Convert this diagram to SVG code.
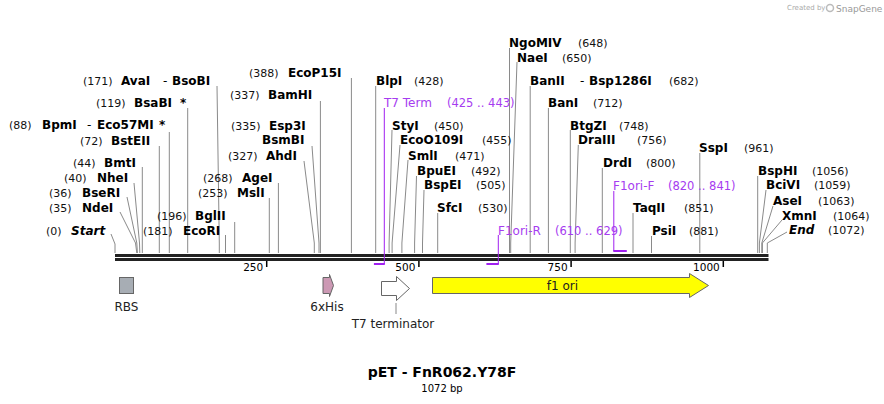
<svg xmlns="http://www.w3.org/2000/svg" width="884" height="404" viewBox="0 0 884 404">
<style>
text{font-family:"DejaVu Sans","Liberation Sans",sans-serif;}
.n{font-size:12px;font-weight:bold;fill:#000;}
.i{font-style:italic;}
.p{font-size:11px;fill:#111;}
.d{font-size:12px;fill:#000;}
.pu{font-size:12px;fill:#a63cf0;}
.pn{font-size:11.5px;fill:#a63cf0;}
.cut{fill:none;stroke:#8a8a8a;stroke-width:1;}
.br{fill:none;stroke:#a020f0;stroke-width:1;}
.brh{fill:none;stroke:#a020f0;stroke-width:2;}
.tk{stroke:#000;stroke-width:1.5;}
.tl{font-size:10.5px;fill:#000;text-anchor:end;}
.fl{font-size:12px;fill:#222;text-anchor:middle;}
.feat{stroke:#666;stroke-width:1;}
</style>

<g id="watermark">
<text x="787" y="10" style="font-size:7px;fill:#aaa;">Created by</text>
<circle cx="830" cy="8" r="3.5" fill="none" stroke="#bbb" stroke-width="1.5"/>
<text x="836" y="11.5" style="font-size:9px;fill:#999;">SnapGene</text>
</g>

<g id="backbone">
<rect x="115" y="254" width="653.5" height="3" fill="#222"/>
<rect x="115" y="258" width="653.5" height="3" fill="#222"/>
<line class="tk" x1="266.7" y1="261" x2="266.7" y2="267"/>
<line class="tk" x1="418.9" y1="261" x2="418.9" y2="267"/>
<line class="tk" x1="571.1" y1="261" x2="571.1" y2="267"/>
<line class="tk" x1="723.3" y1="261" x2="723.3" y2="267"/>
<text class="tl" x="263.2" y="271">250</text>
<text class="tl" x="415.4" y="271">500</text>
<text class="tl" x="567.6" y="271">750</text>
<text class="tl" x="719.8" y="271">1000</text>
</g>

<g id="connectors">
<polyline class="cut" points="111,234 115,244 115,253"/>
<polyline class="cut" points="120,212 135.5,243 136.8,253"/>
<polyline class="cut" points="127,197 136.8,243 137.4,253"/>
<polyline class="cut" points="134,183 139.5,243 139.8,253"/>
<line class="cut" x1="142.3" y1="167" x2="142.3" y2="253"/>
<line class="cut" x1="159.3" y1="146" x2="159.3" y2="253"/>
<line class="cut" x1="169.3" y1="132" x2="169.3" y2="253"/>
<line class="cut" x1="187.7" y1="108" x2="187.7" y2="253"/>
<polyline class="cut" points="217,86 219.3,243 219.3,253"/>
<line class="cut" x1="225.5" y1="235" x2="225.5" y2="253"/>
<line class="cut" x1="234.7" y1="222" x2="234.7" y2="253"/>
<line class="cut" x1="269.3" y1="198" x2="269.3" y2="253"/>
<line class="cut" x1="278.4" y1="183" x2="278.4" y2="253"/>
<polyline class="cut" points="304,161 314.3,243 314.3,253"/>
<polyline class="cut" points="312,146 319,243 319,253"/>
<line class="cut" x1="320.4" y1="101" x2="320.4" y2="253"/>
<line class="cut" x1="351.4" y1="78" x2="351.4" y2="253"/>
<line class="cut" x1="375.7" y1="86" x2="375.7" y2="253"/>
<polyline class="cut" points="392,130 389.1,243 389.1,253"/>
<polyline class="cut" points="400,145 392.1,243 392.1,253"/>
<polyline class="cut" points="408,160 401.9,243 401.9,253"/>
<polyline class="cut" points="416.5,176 414.6,243 414.6,253"/>
<polyline class="cut" points="424,190 422.5,243 422.5,253"/>
<line class="cut" x1="437.7" y1="213" x2="437.7" y2="253"/>
<line class="cut" x1="509.5" y1="48" x2="509.5" y2="253"/>
<polyline class="cut" points="517,62 510.7,243 510.7,253"/>
<line class="cut" x1="530.2" y1="86" x2="530.2" y2="253"/>
<line class="cut" x1="548.4" y1="108" x2="548.4" y2="253"/>
<line class="cut" x1="570.3" y1="130" x2="570.3" y2="253"/>
<polyline class="cut" points="578.3,145 575.1,243 575.1,253"/>
<line class="cut" x1="602.3" y1="168" x2="602.3" y2="253"/>
<line class="cut" x1="633" y1="213" x2="633" y2="253"/>
<line class="cut" x1="651.5" y1="236" x2="651.5" y2="253"/>
<line class="cut" x1="699.8" y1="153" x2="699.8" y2="253"/>
<line class="cut" x1="757.7" y1="176" x2="757.7" y2="253"/>
<polyline class="cut" points="766,190 759.4,243 759.4,253"/>
<polyline class="cut" points="773,206 761.8,243 761.8,253"/>
<polyline class="cut" points="782,220 762.4,243 762.4,253"/>
<polyline class="cut" points="787,232 767.3,243 767.3,253"/>
<line class="br" x1="384.3" y1="108" x2="384.3" y2="264"/>
<line class="brh" x1="373.9" y1="264" x2="384.8" y2="264"/>
<line class="br" x1="498.3" y1="235" x2="498.3" y2="264"/>
<line class="brh" x1="486.4" y1="264" x2="498.8" y2="264"/>
<line class="br" x1="613.8" y1="191" x2="613.8" y2="251"/>
<line class="brh" x1="613.3" y1="251" x2="626.8" y2="251"/>
<line x1="396" y1="303" x2="396" y2="314" stroke="#888" stroke-width="1"/>
</g>

<g id="Start"><text class="p" x="46" y="234.5">(0)</text><text class="n i" x="71" y="234.5">Start</text></g>
<g id="NdeI"><text class="p" x="49" y="211.5">(35)</text><text class="n" x="82" y="211.5">NdeI</text></g>
<g id="BseRI"><text class="p" x="49" y="196.5">(36)</text><text class="n" x="82" y="196.5">BseRI</text></g>
<g id="NheI"><text class="p" x="64" y="181.5">(40)</text><text class="n" x="97" y="181.5">NheI</text></g>
<g id="BmtI"><text class="p" x="73" y="166.5">(44)</text><text class="n" x="104" y="166.5">BmtI</text></g>
<g id="BstEII"><text class="p" x="80" y="144.5">(72)</text><text class="n" x="111" y="144.5">BstEII</text></g>
<g id="BpmI"><text class="p" x="9" y="128.5">(88)</text><text class="n" x="42" y="128.5">BpmI</text><text class="d" x="87" y="128.5">-</text><text class="n" x="97" y="128.5">Eco57MI</text><text class="n" x="159" y="128.5">*</text></g>
<g id="BsaBI"><text class="p" x="96" y="106.5">(119)</text><text class="n" x="134" y="106.5">BsaBI</text><text class="n" x="180" y="106.5">*</text></g>
<g id="AvaI"><text class="p" x="83" y="84.5">(171)</text><text class="n" x="121" y="84.5">AvaI</text><text class="d" x="163" y="84.5">-</text><text class="n" x="172" y="84.5">BsoBI</text></g>
<g id="EcoRI"><text class="p" x="143" y="234.5">(181)</text><text class="n" x="183" y="234.5">EcoRI</text></g>
<g id="BglII"><text class="p" x="157" y="219.5">(196)</text><text class="n" x="195" y="219.5">BglII</text></g>
<g id="MslI"><text class="p" x="198" y="196.5">(253)</text><text class="n" x="237" y="196.5">MslI</text></g>
<g id="AgeI"><text class="p" x="203" y="181.5">(268)</text><text class="n" x="242" y="181.5">AgeI</text></g>
<g id="AhdI"><text class="p" x="257.5" y="159.5" text-anchor="end">(327)</text><text class="n" x="266" y="159.5">AhdI</text></g>
<g id="Esp3I"><text class="p" x="260.5" y="129.5" text-anchor="end">(335)</text><text class="n" x="269" y="129.5">Esp3I</text><text class="n" x="262" y="143.5">BsmBI</text></g>
<g id="BamHI"><text class="p" x="259.5" y="98.5" text-anchor="end">(337)</text><text class="n" x="268" y="98.5">BamHI</text></g>
<g id="EcoP15I"><text class="p" x="249" y="76.5">(388)</text><text class="n" x="288" y="76.5">EcoP15I</text></g>
<g id="BlpI"><text class="n" x="376" y="84.5">BlpI</text><text class="p" x="414" y="84.5">(428)</text></g>
<g id="T7Term"><text class="pu" x="384" y="106.5">T7 Term</text><text class="pn" x="447" y="106.5">(425 .. 443)</text></g>
<g id="StyI"><text class="n" x="392" y="129.5">StyI</text><text class="p" x="434" y="129.5">(450)</text></g>
<g id="EcoO109I"><text class="n" x="400" y="143.5">EcoO109I</text><text class="p" x="482" y="143.5">(455)</text></g>
<g id="SmlI"><text class="n" x="408" y="159.5">SmlI</text><text class="p" x="455" y="159.5">(471)</text></g>
<g id="BpuEI"><text class="n" x="417" y="174.5">BpuEI</text><text class="p" x="471" y="174.5">(492)</text></g>
<g id="BspEI"><text class="n" x="424" y="188.5">BspEI</text><text class="p" x="476" y="188.5">(505)</text></g>
<g id="SfcI"><text class="n" x="437" y="211.5">SfcI</text><text class="p" x="478" y="211.5">(530)</text></g>
<g id="NgoMIV"><text class="n" x="509" y="46.5">NgoMIV</text><text class="p" x="578" y="46.5">(648)</text></g>
<g id="NaeI"><text class="n" x="517" y="61.5">NaeI</text><text class="p" x="562" y="61.5">(650)</text></g>
<g id="BanII"><text class="n" x="530" y="84.5">BanII</text><text class="d" x="580" y="84.5">-</text><text class="n" x="589" y="84.5">Bsp1286I</text><text class="p" x="669" y="84.5">(682)</text></g>
<g id="BanI"><text class="n" x="548" y="106.5">BanI</text><text class="p" x="593" y="106.5">(712)</text></g>
<g id="BtgZI"><text class="n" x="570" y="129.5">BtgZI</text><text class="p" x="619" y="129.5">(748)</text></g>
<g id="DraIII"><text class="n" x="578" y="143.5">DraIII</text><text class="p" x="637" y="143.5">(756)</text></g>
<g id="DrdI"><text class="n" x="603" y="166.5">DrdI</text><text class="p" x="646" y="166.5">(800)</text></g>
<g id="F1oriF"><text class="pu" x="613" y="189.5">F1ori-F</text><text class="pn" x="668" y="189.5">(820 .. 841)</text></g>
<g id="TaqII"><text class="n" x="633" y="211.5">TaqII</text><text class="p" x="684" y="211.5">(851)</text></g>
<g id="PsiI"><text class="n" x="652" y="234.5">PsiI</text><text class="p" x="689" y="234.5">(881)</text></g>
<g id="F1oriR"><text class="pu" x="498" y="234.5">F1ori-R</text><text class="pn" x="555" y="234.5">(610 .. 629)</text></g>
<g id="SspI"><text class="n" x="699" y="151.5">SspI</text><text class="p" x="744" y="151.5">(961)</text></g>
<g id="BspHI"><text class="n" x="758" y="174.5">BspHI</text><text class="p" x="812" y="174.5">(1056)</text></g>
<g id="BciVI"><text class="n" x="766" y="188.5">BciVI</text><text class="p" x="814" y="188.5">(1059)</text></g>
<g id="AseI"><text class="n" x="773" y="204.5">AseI</text><text class="p" x="818" y="204.5">(1063)</text></g>
<g id="XmnI"><text class="n" x="782" y="219.5">XmnI</text><text class="p" x="833" y="219.5">(1064)</text></g>
<g id="End"><text class="n i" x="789" y="233.5">End</text><text class="p" x="828" y="233.5">(1072)</text></g>

<g id="RBS">
<rect class="feat" x="119.5" y="277.5" width="14" height="16" fill="#a7adb4"/>
<text class="fl" x="126.5" y="311">RBS</text>
</g>
<g id="His6">
<path class="feat" d="M323,277.5 L329.5,277.5 L329.5,274.5 L333.5,285.5 L329.5,296.5 L329.5,293.5 L323,293.5 Z" fill="#cc99b4"/>
<text class="fl" x="327" y="311">6xHis</text>
</g>
<g id="T7terminator">
<path class="feat" d="M381.5,281.5 L396.5,281.5 L396.5,276.5 L409.5,288.5 L396.5,300.5 L396.5,295.5 L381.5,295.5 Z" fill="#fff"/>
<text class="fl" x="393" y="327.5">T7 terminator</text>
</g>
<g id="f1ori">
<path class="feat" d="M432.5,277.5 L689.5,277.5 L689.5,273.5 L708.5,285.5 L689.5,297.5 L689.5,293.5 L432.5,293.5 Z" fill="#ffff00"/>
<text class="fl" x="562.5" y="289.5">f1 ori</text>
</g>

<g id="title">
<text x="442" y="377" text-anchor="middle" style="font-size:14px;font-weight:bold;fill:#000;">pET - FnR062.Y78F</text>
<text x="442" y="392" text-anchor="middle" style="font-size:10px;fill:#000;">1072 bp</text>
</g>
</svg>
